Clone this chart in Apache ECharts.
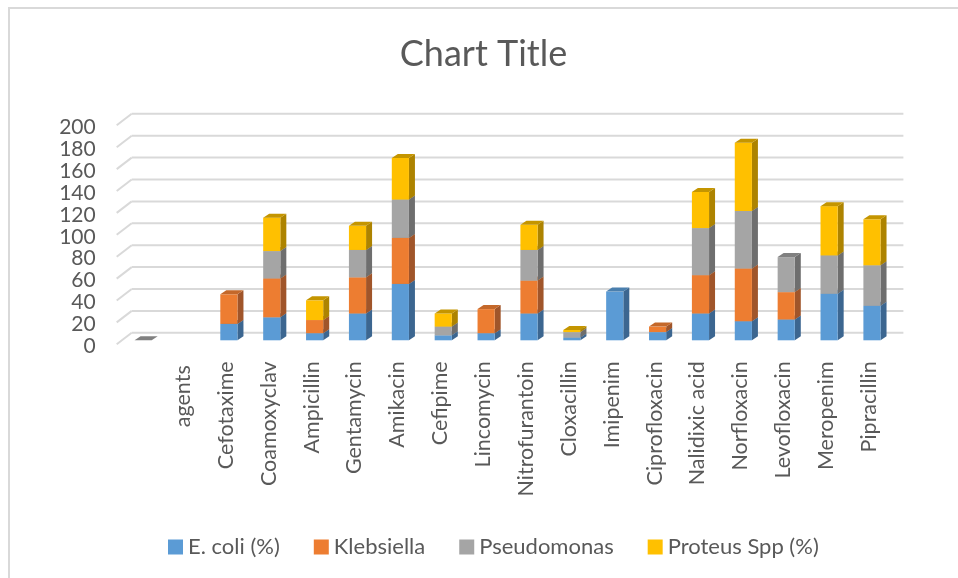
<!DOCTYPE html>
<html><head><meta charset="utf-8">
<style>html,body{margin:0;padding:0;background:#fff}#c{width:958px;height:578px}</style>
<script src="https://cdn.jsdelivr.net/npm/echarts@6/dist/echarts.min.js"></script>
</head><body><div id="c"></div>
<script>
const categories = ['', 'agents', 'Cefotaxime', 'Coamoxyclav', 'Ampicillin', 'Gentamycin', 'Amikacin', 'Cefipime', 'Lincomycin', 'Nitrofurantoin', 'Cloxacillin', 'Imipenim', 'Ciprofloxacin', 'Nalidixic acid', 'Norfloxacin', 'Levofloxacin', 'Meropenim', 'Pipracillin'];
const ecoli       = [null, null, 15, 21, 6.5, 24.5, 51.5, 4.5, 6.5, 24.5, 2.5, 44.5, 7.5, 24.5, 17.5, 19, 42.5, 31.5];
const klebsiella  = [null, null, 27, 35.5, 12, 33, 42, null, 22, 30, null, null, 5, 35, 48, 25, null, null];
const pseudomonas = [0, null, null, 25, null, 25, 35, 8, null, 28, 5, null, null, 43, 52.5, 32, 35, 37];
const proteus     = [null, null, null, 30.5, 18, 22, 38, 12, null, 23, 2, null, null, 33, 62.5, null, 45, 42];
const yTicks = [0, 20, 40, 60, 80, 100, 120, 140, 160, 180, 200];

const names = ['E. coli (%)', 'Klebsiella', 'Pseudomonas', 'Proteus Spp (%)'];
const values = [ecoli, klebsiella, pseudomonas, proteus];
const faces = ['#5b9bd5', '#ed7d31', '#a5a5a5', '#ffc000'];
const sides = ['#3c6690', '#a0552a', '#6e6e6e', '#ad8300'];
const tops  = ['#4a7fae', '#c4682a', '#808080', '#c49500'];
const FONT = 'Lato';
const TEXT = '#595959';

const running = categories.map(() => 0);
const barSeries = values.map((vals, s) => {
  const data = [];
  vals.forEach((v, i) => {
    if (v === null) return;
    data.push([i, running[i], running[i] + v]);
    running[i] += v;
  });
  return {
    name: names[s], type: 'custom', coordinateSystem: 'cartesian2d', clip: false, z: 5,
    itemStyle: { color: faces[s] }, encode: { x: 0, y: [1, 2] }, data,
    renderItem(params, api) {
      const a = api.coord([api.value(0), api.value(1)]);
      const b = api.coord([api.value(0), api.value(2)]);
      const w = api.size([1, 0])[0] * 0.4;
      const ox = 5, oy = -4, dx = 6, dy = -4;
      const l = a[0] - w / 2 + ox, r = l + w, y0 = a[1] + oy, y1 = b[1] + oy;
      const poly = (pts, fill) => ({ type: 'polygon', shape: { points: pts }, style: { fill: fill } });
      const kids = [];
      if (y0 !== y1) {
        kids.push(poly([[r, y0], [r + dx, y0 + dy], [r + dx, y1 + dy], [r, y1]], sides[s]));
        kids.push(poly([[l, y0], [r, y0], [r, y1], [l, y1]], faces[s]));
      }
      kids.push(poly([[l, y1], [r, y1], [r + dx, y1 + dy], [l + dx, y1 + dy]], tops[s]));
      return { type: 'group', children: kids };
    }
  };
});

const gridSeries = {
  type: 'custom', coordinateSystem: 'cartesian2d', clip: false, silent: true, z: 1,
  encode: { y: 1 }, data: yTicks.map(t => [0, t]),
  renderItem(params, api) {
    const c = api.coord([0, api.value(1)]);
    const sys = params.coordSys;
    const ls = { stroke: '#d9d9d9', lineWidth: 2, fill: null };
    return { type: 'group', children: [
      { type: 'line', shape: { x1: sys.x, y1: c[1], x2: sys.x + 15, y2: c[1] - 11.5 }, style: ls },
      { type: 'line', shape: { x1: sys.x + 15, y1: c[1] - 11.5, x2: sys.x + sys.width + 15, y2: c[1] - 11.5 }, style: ls }
    ] };
  }
};

const xStyle = { fontFamily: FONT, fontSize: 21.5, color: TEXT };
const chart = echarts.init(document.getElementById('c'), null, { renderer: 'canvas' });
chart.setOption({
  animation: false,
  backgroundColor: '#fff',
  title: { text: 'Chart Title', left: 478.5, top: 31, textAlign: 'center',
    textStyle: { fontFamily: FONT, fontSize: 36, fontWeight: 'normal', color: TEXT } },
  legend: { data: names, top: 531, left: 163, itemWidth: 15, itemHeight: 15, itemGap: 34, icon: 'rect',
    textStyle: { fontFamily: FONT, fontSize: 22, color: TEXT } },
  grid: { left: 116.7, top: 125.3, width: 771.7, height: 219, containLabel: false },
  xAxis: { type: 'category', data: categories, axisLine: { show: false }, axisTick: { show: false }, splitLine: { show: false },
    axisLabel: { rotate: 90, margin: 17, interval: 0, fontFamily: FONT, fontSize: 21.5, color: TEXT,
      formatter: v => v === '' ? '' : (v === 'agents' ? `{a|${v}}` : `{v|${v}}`),
      rich: { v: Object.assign({ padding: [4, 0, 0, 0] }, xStyle), a: Object.assign({ padding: [4, 4, 0, 0] }, xStyle) } } },
  yAxis: { type: 'value', min: 0, max: 200, interval: 20, axisLine: { show: false }, axisTick: { show: false }, splitLine: { show: false },
    axisLabel: { margin: 21, fontFamily: FONT, fontSize: 21, color: TEXT, formatter: '{v|{value}}', rich: { v: { fontFamily: FONT, fontSize: 21, color: TEXT, padding: [4, 0, 0, 0] } } } },
  graphic: [{ type: 'polyline', silent: true, z: -1, shape: { points: [[9, 578], [9, 8], [958, 8]] },
    style: { stroke: '#d9d9d9', lineWidth: 2, fill: null } }],
  series: [gridSeries].concat(barSeries)
});
</script></body></html>
